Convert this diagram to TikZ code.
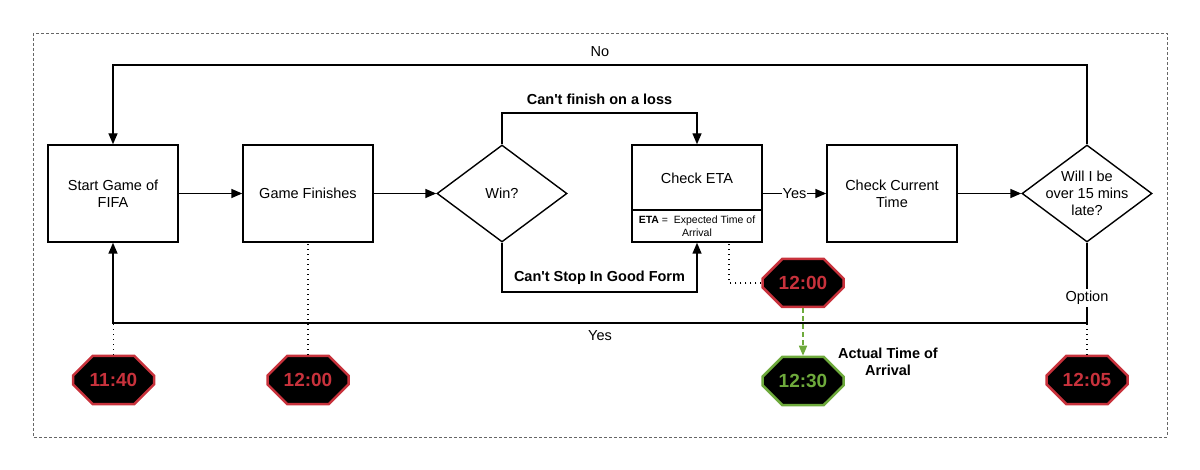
\documentclass[tikz,border=0pt]{standalone}
\usepackage{fontspec}
\setmainfont{Liberation Sans}
\usetikzlibrary{arrows.meta,shapes.geometric,shapes.misc}
\definecolor{clockred}{RGB}{200,50,60}
\definecolor{clockgreen}{RGB}{110,170,60}
\begin{document}
\begin{tikzpicture}[x=1pt,y=-1pt,
  every node/.style={font=\fontsize{14.5}{17}\selectfont},
  box/.style={draw,line width=1.4pt,minimum width=130pt,minimum height=97pt,align=center,inner sep=0pt},
  dec/.style={draw,diamond,line width=1.4pt,minimum width=130pt,minimum height=97pt,inner sep=0pt},
  arr/.style={-{Triangle[length=11pt,width=9pt]},line width=1.4pt},
  dots/.style={line width=1.2pt,dash pattern=on 1.2pt off 3.8pt},
  clock/.style={chamfered rectangle,chamfered rectangle xsep=22pt,chamfered rectangle ysep=13pt,
    draw=clockred,fill=black,line width=2.5pt,minimum width=81pt,minimum height=48pt,inner sep=0pt,
    text=clockred,font=\bfseries\fontsize{19}{22}\selectfont},
  lbl/.style={font=\bfseries\fontsize{14.5}{17}\selectfont}]
\useasboundingbox (0,0) rectangle (1200,470);
\draw[gray!80!black,line width=0.8pt,dash pattern=on 3pt off 2pt] (33,33) rectangle (1167,437);

\node[box] (start) at (113,193.5) {Start Game of\\FIFA};
\node[box] (game) at (308,193.5) {Game Finishes};
\node[dec,label={center:Win?}] (win) at (502,193.5) {};
\node[box] (eta) at (697,193.5) {};
\node (etat) at (697,178) {Check ETA};
\draw[line width=1.4pt] (eta.west |- 0,210) -- (eta.east |- 0,210);
\node[align=center,font=\fontsize{10.5}{13}\selectfont] (etanote) at (697,226) {\textbf{ETA} = \ Expected Time of\\Arrival};
\node[box] (cur) at (892,193.5) {Check Current\\Time};
\node[dec,label={[align=center]center:Will I be\\over 15 mins\\late?}] (late) at (1087,193.5) {};

\node[clock] (c1140) at (113.5,380) {11:40};
\node[clock] (c1200a) at (308,380) {12:00};
\node[clock] (c1200b) at (803,283) {12:00};
\node[clock,draw=clockgreen,text=clockgreen] (c1230) at (803,381) {12:30};
\node[clock] (c1205) at (1087,380) {12:05};
\node[lbl,align=center] (ata) at (888,362) {Actual Time of\\Arrival};

\coordinate (yesline) at (0,323);
\coordinate (noline) at (0,65);

\draw[arr] (start) -- (game);
\draw[arr] (game) -- (win);
\draw[arr] (eta) -- node[fill=white,inner sep=1pt]{Yes} (cur);
\draw[arr] (cur) -- (late);

\draw[arr] (win.north) -- (win.north |- 0,113) -| node[pos=0.25,above=4pt,lbl]{Can\textquotesingle t finish on a loss} (eta.north);
\draw[arr] (win.south) -- (win.south |- 0,292) -| node[pos=0.25,above=3pt,lbl]{Can\textquotesingle t Stop In Good Form} (eta.south);

\draw[arr] (late.north) -- (late.north |- noline) -| node[pos=0.25,above=4pt]{No} (start.north);
\draw[arr] (late.south) -- node[pos=0.69,fill=white,inner sep=2pt]{Option} (late.south |- yesline) -| node[pos=0.25,below=3pt]{Yes} (start.south);

\draw[dots] (c1140.north) -- (c1140.north |- yesline);
\draw[dots] (c1200a.north) -- (game.south);
\draw[dots] (c1200b.west) -| ([xshift=32pt]eta.south);
\draw[dots] (c1205.north) -- (c1205.north |- yesline);
\draw[clockgreen,line width=1.5pt,dash pattern=on 5pt off 3pt,-{Triangle[length=10pt,width=8pt]}] (c1200b.south) -- (c1230.north);
\end{tikzpicture}
\end{document}
